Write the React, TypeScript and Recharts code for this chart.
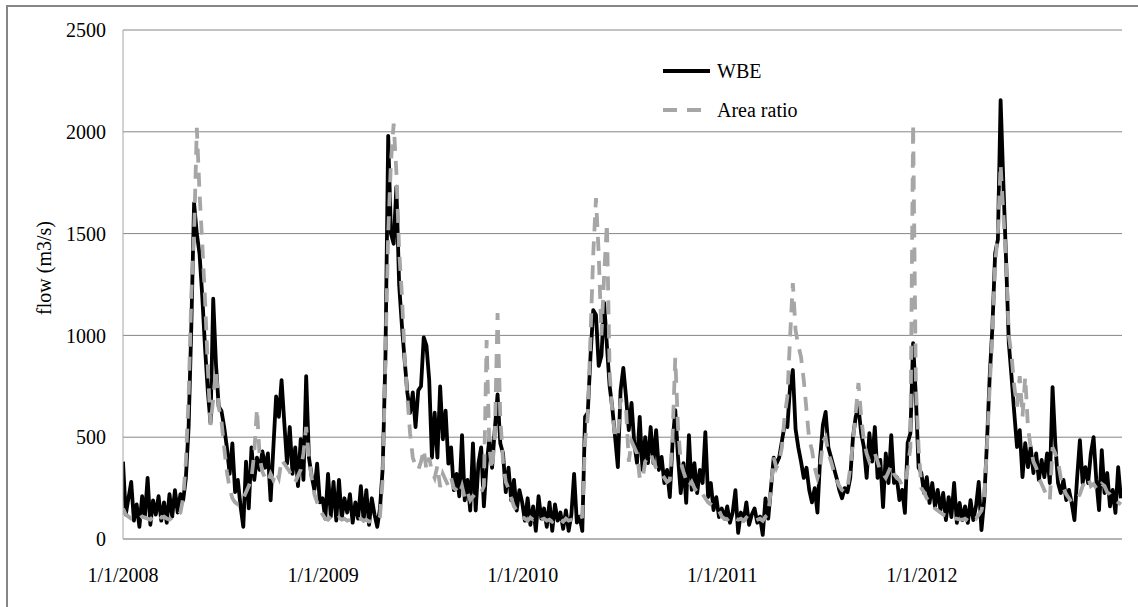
import React from 'react';
import { LineChart, Line, XAxis, YAxis, CartesianGrid, Legend } from 'recharts';

// Tick labels / category positions (day offset from 1/1/2008)
const xTickLabels = ['1/1/2008', '1/1/2009', '1/1/2010', '1/1/2011', '1/1/2012'];
const xTickDays = [0, 366, 731, 1096, 1461];
const yTicks = [0, 500, 1000, 1500, 2000, 2500];
const seriesNames = ['WBE', 'Area ratio'];
const STEP_DAYS = 5; // one reading every 5 days

// WBE (m3/s)
const wbe2008 = [380,120,200,280,90,170,60,210,110,300,70,190,120,210,90,180,80,220,110,240,130,220,190,300,550,1050,1650,1500,1400,1190,940,730,570,1180,860,650,630,550,450,320,470,230,290,160,60,380,150,450,290,400,340,430,350,420,190,450,700,600,780,570,370,550,320,450,260,490,290,800,400,310,240,370,180];
const wbe2009 = [200,100,320,110,280,90,290,100,200,130,220,80,180,100,260,90,240,70,200,120,60,150,350,900,1980,1500,1450,1730,1250,1050,880,720,620,720,550,730,750,990,950,780,400,620,400,750,490,630,370,450,240,320,210,510,190,290,140,470,140,370,450,160,370,490,350,540,710,470,420,230,350,190,290,140,240];
const wbe2010 = [180,90,200,70,160,40,210,100,150,60,180,40,170,90,130,50,140,40,120,320,80,110,40,600,620,900,1124,1100,850,900,1160,950,750,640,500,353,730,840,697,535,668,471,373,600,339,500,373,550,373,535,339,403,275,339,206,471,633,403,226,373,177,510,241,373,226,339,275,525,206,275,142,206,108];
const wbe2011 = [150,100,160,80,130,240,30,130,90,180,70,120,150,80,110,20,200,100,250,400,370,400,480,560,550,750,830,540,450,380,300,350,240,180,250,130,400,560,624,450,400,350,300,240,200,250,230,300,500,600,650,520,450,300,520,380,550,300,388,157,420,275,510,275,304,191,241,128,471,520,962,700,350];
const wbe2012 = [324,226,304,177,275,160,241,142,226,93,206,108,275,79,177,93,160,79,191,93,160,280,44,191,471,796,1041,1404,1470,2156,1750,1370,962,796,618,452,535,304,471,353,452,324,420,290,388,304,420,275,746,471,275,226,290,191,241,177,93,304,486,275,353,275,420,500,290,142,437,226,324,160,241,128,353,200];

// Area ratio (m3/s)
const area2008 = [150,120,110,100,105,95,100,110,105,100,95,110,100,115,105,110,100,95,105,120,115,130,200,380,700,1200,1500,2020,1700,1450,1180,850,560,690,830,650,580,450,330,250,200,180,170,180,200,230,260,300,420,640,400,330,300,280,320,290,330,300,390,370,350,330,300,280,310,340,420,550,400,300,220,180,150];
const area2009 = [120,100,95,110,90,100,105,95,100,90,95,100,90,95,100,90,95,85,90,95,90,110,300,900,1500,1850,2040,1800,1420,1200,900,700,520,400,360,340,380,440,340,400,330,300,360,255,320,290,260,300,250,240,220,260,200,230,190,210,200,220,230,260,977,450,340,500,1110,600,380,280,250,200,160,140,120];
const area2010 = [110,100,90,105,95,100,85,95,100,90,95,85,100,90,95,85,100,90,95,100,90,105,110,480,600,1000,1400,1674,1400,1000,1300,1551,815,618,500,500,690,650,640,380,480,450,420,300,290,380,400,420,380,350,330,320,300,280,290,500,890,550,380,330,290,260,280,250,230,240,220,200,180,170,160,150,140];
const area2011 = [110,100,95,105,90,100,95,100,90,105,95,100,90,95,100,90,110,120,250,400,350,380,450,600,700,992,1257,1026,950,894,780,633,486,437,350,300,350,480,500,420,380,330,290,260,240,230,250,350,480,620,766,600,480,420,380,400,420,380,330,320,300,330,360,320,300,290,260,270,350,450,2040,760,450];
const area2012 = [250,230,200,180,170,150,140,130,120,115,110,105,100,100,95,95,100,90,95,110,100,120,140,200,450,750,1000,1350,1500,1840,1600,1370,1000,900,750,650,800,600,796,550,450,380,350,300,270,240,210,190,450,420,380,300,250,220,200,180,190,200,220,260,280,300,260,270,250,240,270,260,230,220,200,190,180,170];

const wbe = [...wbe2008, ...wbe2009, ...wbe2010, ...wbe2011, ...wbe2012];
const area = [...area2008, ...area2009, ...area2010, ...area2011, ...area2012];
const data = wbe.map((v, i) => ({ day: i * STEP_DAYS, wbe: v, area: area[i] }));

const FONT = '"Liberation Serif", "Times New Roman", serif';
const BLACK = '#000000';
const GRAY = '#A6A6A6';

const renderLegend = () => (
  <svg width={220} height={80} style={{ display: 'block' }}>
    <line x1={8} x2={55} y1={21} y2={21} stroke={BLACK} strokeWidth={4} />
    <text x={62} y={28} fontFamily={FONT} fontSize={20} fill="#000">{seriesNames[0]}</text>
    <line x1={8} x2={55} y1={60} y2={60} stroke={GRAY} strokeWidth={4} strokeDasharray="14 10" />
    <text x={62} y={67} fontFamily={FONT} fontSize={20} fill="#000">{seriesNames[1]}</text>
  </svg>
);

const renderYLabel = () => {
  const cx = 44;
  const cy = 268;
  return (
    <text
      x={cx}
      y={cy}
      transform={`rotate(-90 ${cx} ${cy})`}
      textAnchor="middle"
      dominantBaseline="central"
      fontFamily={FONT}
      fontSize={20}
      fill="#000"
    >
      flow (m3/s)
    </text>
  );
};

export default function App() {
  return (
    <div style={{ position: 'absolute', left: 0, top: 0, width: 1138, height: 607, overflow: 'hidden', background: '#fff' }}>
      <div
        style={{
          position: 'absolute',
          left: 6,
          top: 5,
          width: 1200,
          height: 700,
          borderLeft: '2px solid #868686',
          borderTop: '2px solid #868686',
        }}
      />
      <div style={{ position: 'absolute', left: 0, top: 0 }}>
        <LineChart
          width={1138}
          height={607}
          data={data}
          margin={{ top: 30, right: 16, bottom: 38, left: 0 }}
        >
          <CartesianGrid horizontal vertical={false} stroke="#868686" strokeWidth={1} />
          <XAxis
            dataKey="day"
            type="number"
            domain={[0, 1827]}
            ticks={xTickDays}
            interval={0}
            tickFormatter={(v: number) => xTickLabels[xTickDays.indexOf(v)] ?? ''}
            tickLine={false}
            tickSize={0}
            tickMargin={29}
            height={30}
            axisLine={{ stroke: '#A6A6A6', strokeWidth: 1 }}
            tick={{ fontFamily: FONT, fontSize: 20, fill: '#000' }}
            allowDataOverflow
          />
          <YAxis
            type="number"
            domain={[0, 2500]}
            ticks={yTicks}
            interval={0}
            width={123}
            tickLine={false}
            tickSize={0}
            tickMargin={17}
            axisLine={{ stroke: '#A6A6A6', strokeWidth: 1 }}
            tick={{ fontFamily: FONT, fontSize: 20, fill: '#000' }}
            label={{ content: renderYLabel }}
          />
          <Legend
            layout="horizontal"
            verticalAlign="middle"
            align="center"
            content={renderLegend}
            wrapperStyle={{ position: 'absolute', left: 655, top: 50, width: 220, height: 80 }}
          />
          <Line
            type="linear"
            dataKey="wbe"
            name={seriesNames[0]}
            stroke={BLACK}
            strokeWidth={3.8}
            dot={false}
            strokeLinejoin="round"
            isAnimationActive={false}
          />
          <Line
            type="linear"
            dataKey="area"
            name={seriesNames[1]}
            stroke={GRAY}
            strokeWidth={3.8}
            strokeDasharray="14 10"
            dot={false}
            isAnimationActive={false}
          />
        </LineChart>
      </div>
    </div>
  );
}
